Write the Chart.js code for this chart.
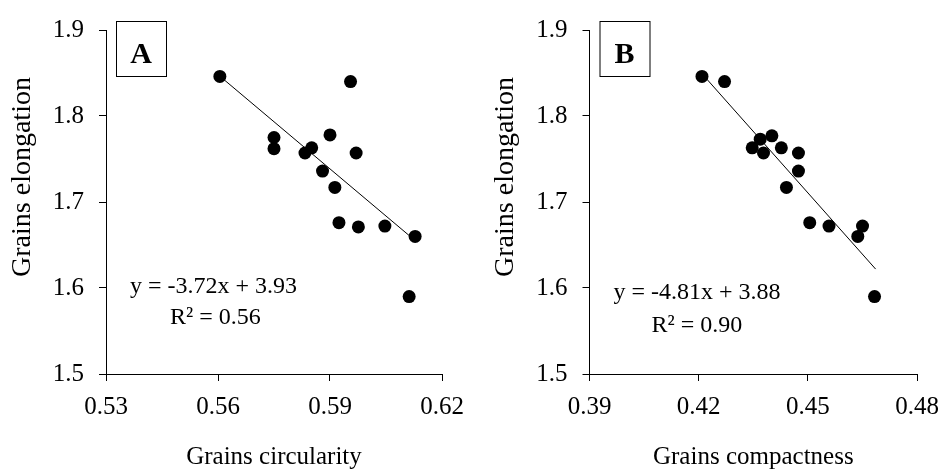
<!DOCTYPE html>
<html>
<head>
<meta charset="utf-8">
<script src="https://cdn.jsdelivr.net/npm/chart.js@4"></script>
<style>
html, body { margin: 0; padding: 0; background: #fff; }
.panel { position: absolute; top: 0; width: 475px; height: 474px; }
</style>
</head>
<body>
<div class="panel" style="left:0"><canvas id="chartA"></canvas></div>
<div class="panel" style="left:475px"><canvas id="chartB"></canvas></div>
<script>
// panel A: elongation vs circularity
const circularityA = [0.5605, 0.5955, 0.575, 0.575, 0.590, 0.5833, 0.5851, 0.597, 0.588, 0.5913, 0.5924, 0.5976, 0.6047, 0.6128, 0.6112];
const elongationA  = [1.846, 1.840, 1.775, 1.762, 1.778, 1.757, 1.763, 1.757, 1.736, 1.717, 1.676, 1.671, 1.672, 1.660, 1.590];
const trendXA = [0.5614, 0.6123];
const trendYA = [1.843, 1.657];
const xTicksA = [0.53, 0.56, 0.59, 0.62];

// panel B: elongation vs compactness
const compactnessB = [0.4209, 0.4271, 0.4347, 0.4369, 0.4378, 0.4401, 0.4427, 0.4474, 0.4474, 0.4441, 0.4505, 0.4558, 0.4637, 0.465, 0.4683];
const elongationB  = [1.846, 1.840, 1.763, 1.773, 1.757, 1.777, 1.763, 1.757, 1.736, 1.717, 1.676, 1.672, 1.660, 1.672, 1.590];
const trendXB = [0.4222, 0.4686];
const trendYB = [1.843, 1.622];
const xTicksB = [0.39, 0.42, 0.45, 0.48];

const yTicks = [1.5, 1.6, 1.7, 1.8, 1.9];
const yTitle = 'Grains elongation';

const serif = '"Liberation Serif", "Times New Roman", serif';

const toPoints = (xs, ys) => xs.map((x, i) => ({ x: x, y: ys[i] }));

// letter box, regression text and the y title (sits above the axis centre)
const notesPlugin = {
    id: 'notes',
    afterDraw(chart, args, opts) {
        const ctx = chart.ctx;
        const left = chart.chartArea.left;
        ctx.save();
        ctx.strokeStyle = '#000';
        ctx.lineWidth = 1;
        ctx.strokeRect(left + 10.5, 21.5, 50, 55);
        ctx.fillStyle = '#000';
        ctx.textAlign = 'center';
        ctx.textBaseline = 'alphabetic';
        ctx.font = 'bold 30px ' + serif;
        ctx.fillText(opts.letter, left + 35, 63);
        ctx.textAlign = 'left';
        ctx.font = '24px ' + serif;
        ctx.fillText(opts.equation, left + opts.eqX, opts.eqY);
        ctx.fillText(opts.r2, left + opts.r2X, opts.r2Y);

        ctx.translate(opts.titleX, 177);
        ctx.rotate(-Math.PI / 2);
        ctx.textAlign = 'center';
        ctx.textBaseline = 'middle';
        ctx.font = '28px ' + serif;
        ctx.fillText(yTitle, 0, 0);
        ctx.restore();
    }
};

function makeChart(id, xs, ys, tx, ty, xTicks, xTitle, p) {
    return new Chart(document.getElementById(id), {
        type: 'scatter',
        data: {
            datasets: [{
                data: toPoints(tx, ty),
                showLine: true,
                borderColor: '#000',
                borderWidth: 1,
                pointRadius: 0,
                order: 2
            }, {
                data: toPoints(xs, ys),
                pointRadius: 6.5,
                pointBackgroundColor: '#000',
                pointBorderWidth: 0,
                order: 1
            }]
        },
        options: {
            responsive: true,
            maintainAspectRatio: false,
            animation: false,
            events: [],
            layout: { padding: { left: 0, right: p.right, top: 21, bottom: 0 } },
            plugins: {
                legend: { display: false },
                tooltip: { enabled: false },
                notes: p.notes
            },
            scales: {
                x: {
                    type: 'linear',
                    min: xTicks[0],
                    max: xTicks[xTicks.length - 1],
                    afterBuildTicks: s => { s.ticks = xTicks.map(v => ({ value: v })); },
                    afterFit: s => { s.height = 100; },
                    border: { color: '#000', width: 1 },
                    grid: { drawOnChartArea: false, drawTicks: true, tickLength: 7, color: '#000' },
                    ticks: { color: '#000', font: { family: serif, size: 25 }, padding: 11, callback: v => v.toFixed(2) },
                    title: { display: true, text: xTitle, color: '#000', font: { family: serif, size: 25 }, padding: { top: 0, bottom: 2 } }
                },
                y: {
                    type: 'linear',
                    min: 1.5,
                    max: 1.9,
                    afterBuildTicks: s => { s.ticks = yTicks.map(v => ({ value: v })); },
                    afterFit: s => { s.width = p.yWidth; },
                    border: { color: '#000', width: 1 },
                    grid: { drawOnChartArea: false, drawTicks: true, tickLength: 7, color: '#000' },
                    ticks: { color: '#000', font: { family: serif, size: 25 }, padding: 15, callback: v => v.toFixed(1) },
                    title: { display: false }
                }
            }
        },
        plugins: [notesPlugin]
    });
}

makeChart('chartA', circularityA, elongationA, trendXA, trendYA, xTicksA, 'Grains circularity', {
    right: 33, yWidth: 106,
    notes: { letter: 'A', equation: 'y = -3.72x + 3.93', r2: 'R² = 0.56', eqX: 24, eqY: 293, r2X: 64, r2Y: 324, titleX: 23 }
});

makeChart('chartB', compactnessB, elongationB, trendXB, trendYB, xTicksB, 'Grains compactness', {
    right: 24, yWidth: 114.5,
    notes: { letter: 'B', equation: 'y = -4.81x + 3.88', r2: 'R² = 0.90', eqX: 24, eqY: 299, r2X: 62, r2Y: 332, titleX: 31 }
});
</script>
</body>
</html>
